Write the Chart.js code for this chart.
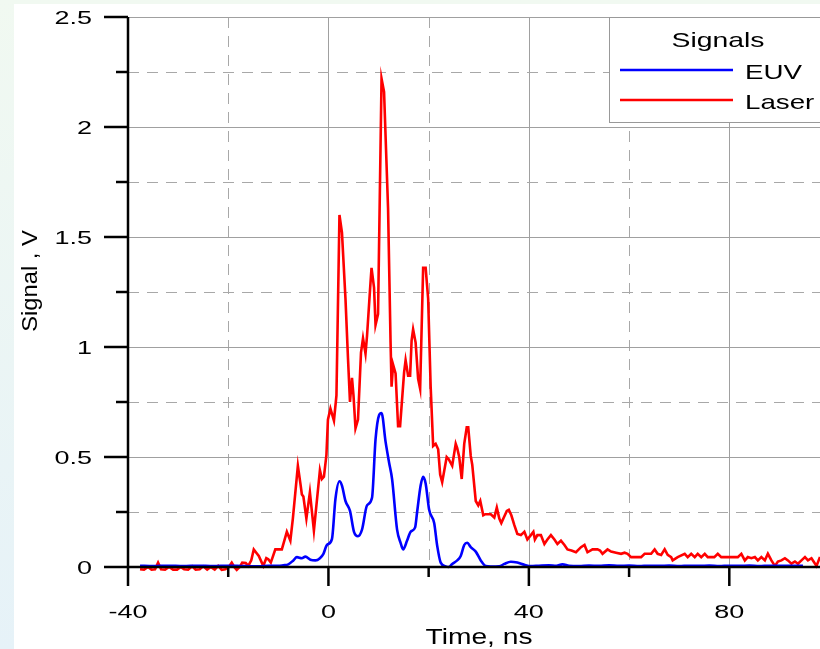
<!DOCTYPE html>
<html>
<head>
<meta charset="utf-8">
<title>Signals</title>
<script src="https://cdn.jsdelivr.net/npm/chart.js@4.4.1/dist/chart.umd.min.js"></script>
<style>
  html, body { margin: 0; padding: 0; background: #eef8ef; }
  canvas { display: block; }
</style>
</head>
<body>
<canvas id="chart" width="820" height="649"></canvas>
<script>
/* values: time in ns, signal in V */

const laserTime = [
  -37.6, -36.8, -36.0, -35.3, -34.6, -34.0, -33.4, -32.6, -31.8, -31.0,
  -30.2, -29.5, -28.8, -28.0, -27.2, -26.5, -25.7, -25.0, -24.2, -23.5,
  -22.7, -22.0, -21.3, -20.6, -19.9, -19.3, -18.8, -18.3, -17.7, -17.2,
  -16.5, -16.0, -15.4, -14.9, -14.4, -13.9, -13.3, -13.0, -12.4, -12.0,
  -11.5, -10.6, -9.9, -9.3, -8.8, -8.3, -7.6, -7.1, -6.1, -5.6,
  -5.3, -5.0, -4.4, -3.7, -2.9, -1.7, -1.3, -0.9, -0.4, -0.1,
  0.4, 1.1, 1.6, 2.2, 2.7, 3.4, 3.9, 4.3, 4.7, 5.0,
  5.4, 5.9, 6.5, 6.9, 7.4, 7.7, 8.3, 8.6, 9.1, 9.4,
  9.9, 10.6, 11.1, 11.9, 12.4, 12.6, 12.9, 13.4, 13.9, 14.3,
  15.1, 15.4, 15.9, 16.3, 16.6, 16.9, 17.4, 17.9, 18.3, 18.9,
  19.4, 19.9, 20.4, 20.9, 21.4, 21.9, 22.3, 22.7, 23.6, 24.0,
  24.7, 25.4, 25.7, 26.1, 26.6, 27.1, 27.6, 27.9, 28.4, 28.7,
  29.4, 29.9, 30.3, 30.9, 31.3, 32.4, 33.1, 33.6, 34.1, 34.5,
  35.0, 35.6, 36.0, 36.5, 37.1, 37.7, 38.4, 39.1, 39.7, 40.4,
  40.9, 41.2, 41.7, 42.4, 43.1, 43.7, 44.4, 45.1, 45.7, 46.4,
  47.1, 47.7, 48.5, 49.4, 50.4, 51.1, 51.7, 52.7, 53.7, 54.2,
  54.7, 55.7, 56.4, 57.4, 58.4, 59.1, 59.7, 60.4, 61.1, 62.4,
  63.1, 64.4, 65.1, 65.7, 66.4, 67.1, 67.7, 68.4, 68.7, 69.7,
  71.1, 71.7, 72.4, 73.1, 73.7, 74.4, 75.1, 75.7, 77.0, 77.7,
  78.4, 80.0, 81.7, 82.4, 83.1, 83.7, 84.4, 85.1, 85.7, 86.4,
  87.1, 87.7, 88.4, 89.1, 89.7, 90.4, 91.1, 91.7, 92.4, 93.1,
  93.7, 94.4, 95.1, 95.7, 96.4, 97.4, 98.1
];
const laserSignal = [
  -0.01, -0.012, 0.0, -0.012, -0.01, 0.02, -0.01, -0.012, 0.0, -0.012,
  -0.012, 0.0, -0.01, -0.012, 0.003, -0.012, -0.01, 0.003, -0.012, 0.0,
  -0.012, 0.005, -0.013, -0.01, 0.0, 0.02, 0.0, -0.013, 0.0, 0.02,
  0.018, 0.005, 0.03, 0.08, 0.065, 0.05, 0.02, 0.005, 0.04, 0.035,
  0.02, 0.08, 0.08, 0.08, 0.12, 0.16, 0.12, 0.22, 0.46, 0.38,
  0.33, 0.32, 0.22, 0.34, 0.165, 0.44, 0.40, 0.41, 0.51, 0.67,
  0.72, 0.665, 0.78, 1.60, 1.52, 1.22, 0.95, 0.75, 0.86, 0.78,
  0.63, 0.67, 0.975, 1.04, 0.97, 1.05, 1.26, 1.36, 1.27, 1.10,
  1.15, 2.22, 2.16, 1.63, 1.02, 0.82, 0.92, 0.88, 0.64, 0.64,
  0.885, 0.94, 0.87, 0.87, 1.03, 1.08, 1.02, 0.855, 0.81, 1.36,
  1.36, 1.22, 0.82, 0.55, 0.56, 0.535, 0.42, 0.385, 0.50, 0.49,
  0.46, 0.56, 0.54, 0.50, 0.40, 0.56, 0.635, 0.635, 0.505, 0.465,
  0.30, 0.28, 0.30, 0.235, 0.24, 0.24, 0.225, 0.27, 0.22, 0.20,
  0.225, 0.255, 0.26, 0.235, 0.19, 0.15, 0.145, 0.16, 0.125, 0.145,
  0.16, 0.125, 0.145, 0.145, 0.105, 0.125, 0.145, 0.125, 0.105, 0.12,
  0.10, 0.08, 0.075, 0.067, 0.09, 0.10, 0.067, 0.08, 0.08, 0.075,
  0.06, 0.08, 0.07, 0.065, 0.06, 0.065, 0.06, 0.045, 0.045, 0.045,
  0.06, 0.06, 0.08, 0.06, 0.055, 0.08, 0.055, 0.045, 0.03, 0.045,
  0.06, 0.045, 0.06, 0.045, 0.06, 0.045, 0.06, 0.045, 0.045, 0.06,
  0.045, 0.045, 0.045, 0.06, 0.03, 0.045, 0.04, 0.045, 0.03, 0.045,
  0.03, 0.06, 0.03, 0.005, 0.025, 0.03, 0.04, 0.03, 0.015, 0.025,
  0.015, 0.03, 0.045, 0.03, 0.04, 0.005, 0.045
];

const euvTime = [
  -37.6, -35, -32, -29, -26, -23, -20, -17, -14, -12,
  -10, -9, -8, -7, -6.3, -5.3, -4.6, -3.6, -2.6, -1.7,
  -1.0, -0.3, 0.7, 1.4, 2.2, 2.7, 3.4, 4.3, 5.1, 5.9,
  6.7, 7.7, 8.7, 9.4, 10.1, 10.6, 11.4, 12.1, 12.7, 13.7,
  14.4, 14.9, 15.7, 16.4, 17.3, 17.7, 18.4, 18.9, 19.4, 20.1,
  21.1, 21.7, 22.4, 23.4, 24.0, 24.7, 25.7, 26.4, 27.1, 27.7,
  28.4, 29.4, 30.4, 31.4, 32.4, 34.1, 35.1, 36.4, 37.7, 39.1,
  40.4, 42, 44, 45.5, 46.7, 48, 50, 52, 54, 56,
  58, 60, 62, 64, 66, 68, 70, 72, 74, 76,
  78, 80, 82, 84, 86, 88, 90, 92, 94.7
];
const euvSignal = [
  0.006, 0.004, 0.006, 0.004, 0.006, 0.004, 0.006, 0.004, 0.003, 0.006,
  0.005, 0.008, 0.012, 0.03, 0.045, 0.04, 0.047, 0.033, 0.03, 0.04,
  0.06, 0.10, 0.127, 0.31, 0.39, 0.37, 0.30, 0.255, 0.16, 0.14,
  0.17, 0.28, 0.315, 0.58, 0.69, 0.70, 0.57, 0.475, 0.40, 0.17,
  0.11, 0.08, 0.12, 0.16, 0.18, 0.25, 0.37, 0.41, 0.38, 0.26,
  0.20, 0.097, 0.02, 0.003, 0.0, 0.014, 0.03, 0.05, 0.10, 0.11,
  0.09, 0.07, 0.03, 0.004, 0.002, 0.003, 0.014, 0.024, 0.02, 0.01,
  0.004, 0.006, 0.008, 0.006, 0.012, 0.006, 0.004, 0.007, 0.005, 0.008,
  0.005, 0.007, 0.004, 0.006, 0.005, 0.007, 0.004, 0.006, 0.005, 0.007,
  0.004, 0.006, 0.005, 0.007, 0.004, 0.006, 0.005, 0.006, 0.006
];

const seriesNames = ["EUV", "Laser"];
const seriesColors = ["#0000ff", "#ff0000"];
const legendTitle = "Signals";
const xTitle = "Time, ns";
const yTitle = "Signal , V";

const FONT = '"Liberation Sans", Arial, sans-serif';

function toPoints(xs, ys) {
    return xs.map(function(x, i) { return { x: x, y: ys[i] }; });
}

function xLabel(v) { return v % 40 === 0 ? String(v) : ""; }
function yLabel(v) { return Math.round(v * 4) % 2 === 0 ? String(Math.round(v * 100) / 100) : ""; }

// text in the picture is noticeably wider than Arial, so stretch it a bit
function wideText(ctx, txt, x, y, size, sx, align) {
    ctx.save();
    ctx.font = size + "px " + FONT;
    ctx.fillStyle = "#000";
    ctx.textAlign = align;
    ctx.textBaseline = "alphabetic";
    ctx.translate(x, y);
    ctx.scale(sx, 1);
    ctx.fillText(txt, 0, 0);
    ctx.restore();
}

function line(ctx, x1, y1, x2, y2) {
    ctx.beginPath();
    ctx.moveTo(x1, y1);
    ctx.lineTo(x2, y2);
    ctx.stroke();
}

const framePlugin = {
    id: "frame",
    beforeDraw(chart) {
        const ctx = chart.ctx, w = chart.width, h = chart.height;
        ctx.save();
        const g = ctx.createLinearGradient(0, 0, 0, h);
        g.addColorStop(0, "#f1f9f1");
        g.addColorStop(1, "#e6f2f8");
        ctx.fillStyle = g;
        ctx.fillRect(0, 0, w, h);
        ctx.fillStyle = "#ffffff";
        ctx.fillRect(14, 4, w - 14, h - 4);
        ctx.restore();
    },
    beforeDatasetsDraw(chart) {
        const ctx = chart.ctx, a = chart.chartArea;
        const xs = chart.scales.x, ys = chart.scales.y;
        ctx.save();
        ctx.lineWidth = 1;
        xs.ticks.forEach(function(t) {
            if (t.value % 20 !== 0 || t.value === xs.min) return;
            const px = Math.round(xs.getPixelForValue(t.value)) + 0.5;
            const solid = t.value % 40 === 0;
            ctx.strokeStyle = solid ? "#a0a0a0" : "#a8a8a8";
            ctx.setLineDash(solid ? [] : [11, 8]);
            line(ctx, px, a.top, px, a.bottom);
        });
        ys.ticks.forEach(function(t) {
            if (t.value === ys.min) return;
            const q = Math.round(t.value * 4);
            const py = Math.round(ys.getPixelForValue(t.value)) + 0.5;
            const solid = q % 2 === 0;
            ctx.strokeStyle = solid ? "#a0a0a0" : "#a8a8a8";
            ctx.setLineDash(solid ? [] : [11, 8]);
            line(ctx, a.left, py, a.right, py);
        });
        ctx.restore();
    },
    afterDatasetsDraw(chart) {
        const ctx = chart.ctx, a = chart.chartArea, w = chart.width;
        const xs = chart.scales.x, ys = chart.scales.y;
        ctx.save();
        ctx.setLineDash([]);
        ctx.strokeStyle = "#000";
        ctx.lineWidth = 2.5;
        line(ctx, a.left, a.top, a.left, a.bottom + 1);
        line(ctx, a.left, a.bottom, a.right, a.bottom);

        xs.ticks.forEach(function(t) {
            if (t.value % 20 !== 0) return;
            const px = xs.getPixelForValue(t.value);
            const major = t.value % 40 === 0;
            line(ctx, px, a.bottom, px, a.bottom + (major ? 19 : 10));
            if (major) wideText(ctx, xLabel(t.value), px, a.bottom + 51, 19, 1.42, "center");
        });
        ys.ticks.forEach(function(t) {
            const py = ys.getPixelForValue(t.value);
            const major = Math.round(t.value * 4) % 2 === 0;
            line(ctx, a.left - (major ? 24 : 12), py, a.left, py);
            if (major) wideText(ctx, yLabel(t.value), a.left - 36, py + 6.5, 19, 1.42, "right");
        });

        wideText(ctx, xTitle, 479, 644, 22, 1.28, "center");

        ctx.save();
        ctx.translate(37, 281);
        ctx.rotate(-Math.PI / 2);
        ctx.scale(1.08, 1);
        ctx.font = "22px " + FONT;
        ctx.fillStyle = "#000";
        ctx.textAlign = "center";
        ctx.fillText(yTitle, 0, 0);
        ctx.restore();

        // legend box in the top right corner
        const lx = 609, ly = 17, lb = 122;
        ctx.fillStyle = "#fff";
        ctx.fillRect(lx, ly, w - lx, lb - ly);
        ctx.strokeStyle = "#999";
        ctx.lineWidth = 1;
        ctx.strokeRect(lx + 0.5, ly + 0.5, w - lx + 5, lb - ly);
        wideText(ctx, legendTitle, 718, 47, 21, 1.35, "center");
        chart.data.datasets.forEach(function(ds, i) {
            const yy = 70 + i * 30;
            ctx.strokeStyle = ds.borderColor;
            ctx.lineWidth = 2.5;
            line(ctx, 620, yy, 733, yy);
            wideText(ctx, ds.label, 745, yy + 8.5, 21, 1.32, "left");
        });
        ctx.restore();
    }
};

new Chart(document.getElementById("chart"), {
    type: "scatter",
    data: {
        datasets: [
            {
                label: seriesNames[0],
                data: toPoints(euvTime, euvSignal),
                borderColor: seriesColors[0],
                backgroundColor: seriesColors[0],
                showLine: true,
                borderWidth: 2.6,
                pointRadius: 0,
                cubicInterpolationMode: "monotone",
                clip: { left: 0, top: 0, right: 0, bottom: 5 }
            },
            {
                label: seriesNames[1],
                data: toPoints(laserTime, laserSignal),
                borderColor: seriesColors[1],
                backgroundColor: seriesColors[1],
                showLine: true,
                borderWidth: 2.6,
                pointRadius: 0,
                tension: 0,
                clip: { left: 0, top: 0, right: 0, bottom: 5 }
            }
        ]
    },
    options: {
        responsive: false,
        animation: false,
        layout: { padding: { top: 17, left: 0, right: 0, bottom: 0 } },
        plugins: { legend: { display: false }, tooltip: { enabled: false } },
        scales: {
            x: {
                type: "linear",
                min: -40,
                max: 98.1,
                ticks: { stepSize: 20, display: false, autoSkip: false, callback: xLabel },
                grid: { display: false },
                border: { display: false },
                afterFit: function(s) { s.height = 82; }
            },
            y: {
                type: "linear",
                min: 0,
                max: 2.5,
                ticks: { stepSize: 0.25, display: false, autoSkip: false, callback: yLabel },
                grid: { display: false },
                border: { display: false },
                afterFit: function(s) { s.width = 128; }
            }
        }
    },
    plugins: [framePlugin]
});
</script>
</body>
</html>
